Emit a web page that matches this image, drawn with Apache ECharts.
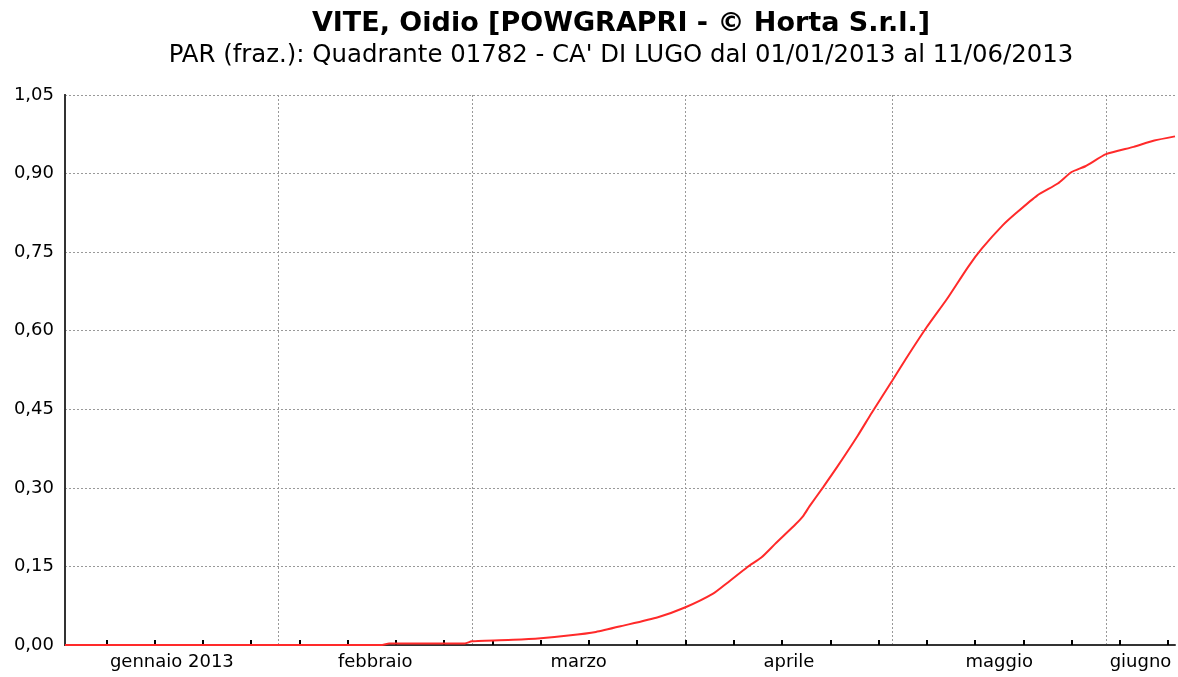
<!DOCTYPE html>
<html>
<head>
<meta charset="utf-8">
<script src="https://cdn.jsdelivr.net/npm/echarts@6/dist/echarts.min.js"></script>
<style>
  html, body { margin: 0; padding: 0; background: #fff; }
  #chart { width: 1178px; height: 677px; }
</style>
</head>
<body>
<div id="chart"></div>
<script>
// giorni dal 01/01/2013 (0 = 1 gennaio)
const days = [0, 46, 47, 58, 59, 65, 69, 73, 77, 81, 86, 90, 94, 96, 99, 101, 103, 106, 107, 108,
  110, 112, 115, 117, 120, 122, 125, 128, 131, 133, 136, 138, 141, 144, 146, 148, 151, 155, 158, 161];
const values = [0, 0, 0.003, 0.003, 0.007, 0.010, 0.013, 0.018, 0.025, 0.037, 0.053, 0.072, 0.098,
  0.118, 0.149, 0.167, 0.193, 0.231, 0.245, 0.265, 0.302, 0.34, 0.40, 0.443, 0.505, 0.547, 0.607,
  0.662, 0.722, 0.757, 0.801, 0.825, 0.858, 0.881, 0.903, 0.914, 0.937, 0.951, 0.963, 0.971];

// tacche settimanali (lunedi) e inizio mesi
const weekTicks = [6, 13, 20, 27, 34, 41, 48, 55, 62, 69, 76, 83, 90, 97, 104, 111, 118, 125,
  132, 139, 146, 153, 160];
const monthStarts = [31, 59, 90, 120, 151];
const monthLabelPos = [15.5, 45, 74.5, 105, 135.5, 156];
const monthNames = ['gennaio 2013', 'febbraio', 'marzo', 'aprile', 'maggio', 'giugno'];

const chart = echarts.init(document.getElementById('chart'));

let option = {
    animation: false,
    title: {
        text: 'VITE, Oidio [POWGRAPRI - \u00a9 Horta S.r.l.]',
        subtext: "PAR (fraz.): Quadrante 01782 - CA' DI LUGO dal 01/01/2013 al 11/06/2013",
        left: 616,
        textAlign: 'center',
        top: 5,
        itemGap: 7,
        textStyle: {
            fontFamily: 'DejaVu Sans',
            fontSize: 27,
            fontWeight: 'bold',
            color: '#000'
        },
        subtextStyle: {
            fontFamily: 'DejaVu Sans',
            fontSize: 24.4,
            color: '#000'
        }
    },
    grid: {
        left: 65,
        right: 3,
        top: 95,
        bottom: 32
    },
    xAxis: [
        {
            type: 'value',
            min: 0,
            max: 161,
            axisLine: { lineStyle: { color: '#333', width: 2 } },
            axisTick: {
                customValues: weekTicks,
                inside: true,
                length: 5,
                lineStyle: { color: '#000', width: 2 }
            },
            axisLabel: {
                customValues: monthLabelPos,
                fontFamily: 'DejaVu Sans',
                fontSize: 18,
                color: '#000',
                margin: 8,
                formatter: v => monthNames[monthLabelPos.indexOf(v)]
            },
            splitLine: { show: false }
        },
        {
            type: 'value',
            min: 0,
            max: 161,
            position: 'bottom',
            axisLine: { show: false },
            axisTick: { show: false, customValues: monthStarts },
            axisLabel: { show: false },
            splitLine: {
                show: true,
                lineStyle: { color: '#999', type: [2, 2], width: 1 }
            }
        }
    ],
    yAxis: [
        {
            type: 'value',
            min: 0,
            max: 1.05,
            interval: 0.15,
            axisLine: { show: true, lineStyle: { color: '#333', width: 2 } },
            axisTick: { show: false },
            axisLabel: {
                fontFamily: 'DejaVu Sans',
                fontSize: 18,
                color: '#000',
                margin: 11,
                formatter: v => v.toFixed(2).replace('.', ',')
            },
            splitLine: {
                lineStyle: { color: '#999', type: [2, 2], width: 1 }
            }
        },
        {
            type: 'value',
            min: 0,
            max: 1.05,
            position: 'right',
            axisLine: { show: true, lineStyle: { color: '#333', width: 2 } },
            axisTick: { show: false },
            axisLabel: { show: false },
            splitLine: { show: false }
        }
    ],
    series: [
        {
            type: 'line',
            data: days.map((d, i) => [d, values[i]]),
            showSymbol: false,
            smooth: 0.2,
            lineStyle: { color: '#ff2a2a', width: 2 },
            z: 5
        }
    ]
};

chart.setOption(option);
</script>
</body>
</html>
